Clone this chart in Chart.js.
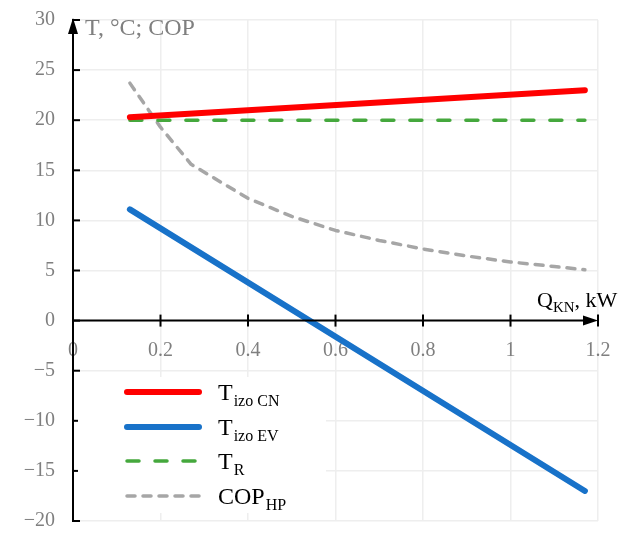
<!DOCTYPE html>
<html>
<head>
<meta charset="utf-8">
<script src="https://cdn.jsdelivr.net/npm/chart.js@4/dist/chart.umd.min.js"></script>
<style>
  html, body { margin: 0; padding: 0; background: #ffffff; }
  canvas { display: block; }
</style>
</head>
<body>
<canvas id="c" width="622" height="534"></canvas>
<script>
// Heat pump operating curves versus condenser load Q_KN (kW)
const qEnds  = [0.13, 1.17];          // load range of the straight-line series, kW
const tIzoCN = [20.3, 23.0];          // condenser insulation temperature, °C
const tIzoEV = [11.1, -17.0];         // evaporator insulation temperature, °C
const tRoom  = [20, 20];              // room temperature, °C
const qCop   = [0.13, 0.2, 0.27, 0.4, 0.5, 0.6, 0.7, 0.8, 0.9, 1.0, 1.1, 1.17];
const copHP  = [23.7, 19.3, 15.6, 12.2, 10.4, 9.0, 8.0, 7.15, 6.45, 5.85, 5.4, 5.07];
const xTicks = [0, 0.2, 0.4, 0.6, 0.8, 1, 1.2];
const yTicks = [-20, -15, -10, -5, 0, 5, 10, 15, 20, 25, 30];

const SERIF = '"Liberation Serif", "Times New Roman", serif';
const GRAY_TXT = '#7f7f7f';
const pts = (xs, ys) => xs.map((x, i) => ({ x: x, y: ys[i] }));

const series = [
  { main: 'T', sub: 'izo CN', data: pts(qEnds, tIzoCN), color: '#ff0000', width: 6,   dash: [] },
  { main: 'T', sub: 'izo EV', data: pts(qEnds, tIzoEV), color: '#1872c9', width: 6,   dash: [] },
  { main: 'T', sub: 'R',      data: pts(qEnds, tRoom),  color: '#45a83d', width: 3.5, dash: [12, 16] },
  { main: 'COP', sub: 'HP',   data: pts(qCop, copHP),   color: '#a6a6a6', width: 3.5, dash: [8, 8] }
];

// axes with arrows, crossing ticks, axis titles and the legend with subscripts
const decorations = {
  id: 'decorations',
  afterDraw(chart) {
    const ctx = chart.ctx;
    const xs = chart.scales.x, ys = chart.scales.y;
    const x0 = xs.getPixelForValue(0), x1 = xs.getPixelForValue(1.2);
    const yB = ys.getPixelForValue(-20), yT = ys.getPixelForValue(30), y0 = ys.getPixelForValue(0);
    ctx.save();
    ctx.strokeStyle = '#000';
    ctx.fillStyle = '#000';
    ctx.lineWidth = 2;
    ctx.lineCap = 'butt';
    // vertical axis
    ctx.beginPath();
    ctx.moveTo(x0, yB); ctx.lineTo(x0, yT + 10); ctx.stroke();
    yTicks.forEach(v => {
      const p = ys.getPixelForValue(v);
      ctx.beginPath(); ctx.moveTo(x0 - 1, p); ctx.lineTo(x0 + 7, p); ctx.stroke();
    });
    ctx.beginPath();
    ctx.moveTo(x0, yT - 2); ctx.lineTo(x0 - 5, yT + 14); ctx.lineTo(x0 + 5, yT + 14); ctx.closePath(); ctx.fill();
    // horizontal axis at zero
    ctx.beginPath();
    ctx.moveTo(x0, y0); ctx.lineTo(x1 - 10, y0); ctx.stroke();
    xTicks.slice(1).forEach(v => {
      const p = xs.getPixelForValue(v);
      ctx.beginPath(); ctx.moveTo(p, y0 - 6); ctx.lineTo(p, y0 + 6); ctx.stroke();
    });
    ctx.beginPath();
    ctx.moveTo(x1, y0); ctx.lineTo(x1 - 15, y0 - 5); ctx.lineTo(x1 - 15, y0 + 5); ctx.closePath(); ctx.fill();

    // axis titles
    ctx.textBaseline = 'alphabetic';
    ctx.textAlign = 'left';
    ctx.fillStyle = GRAY_TXT;
    ctx.font = '24px ' + SERIF;
    ctx.fillText('T, °C; COP', x0 + 12, yT + 15);

    ctx.fillStyle = '#000';
    let tx = 537;
    ctx.font = '22px ' + SERIF;
    ctx.fillText('Q', tx, y0 - 14); tx += ctx.measureText('Q').width;
    ctx.font = '15px ' + SERIF;
    ctx.fillText('KN', tx, y0 - 9); tx += ctx.measureText('KN').width;
    ctx.font = '22px ' + SERIF;
    ctx.fillText(', kW', tx, y0 - 14);

    // legend
    ctx.fillStyle = '#ffffff';
    ctx.fillRect(78, 377, 248, 136);
    const rows = [392, 427, 461, 496];
    series.forEach((s, i) => {
      const ry = rows[i];
      ctx.strokeStyle = s.color;
      ctx.lineWidth = s.width;
      ctx.lineCap = 'round';
      ctx.setLineDash(s.dash);
      ctx.beginPath(); ctx.moveTo(127, ry); ctx.lineTo(199, ry); ctx.stroke();
      ctx.setLineDash([]);
      ctx.fillStyle = '#000';
      let lx = 218;
      ctx.font = '24px ' + SERIF;
      ctx.fillText(s.main, lx, ry + 8); lx += ctx.measureText(s.main).width + 1;
      ctx.font = '16px ' + SERIF;
      ctx.fillText(s.sub, lx, ry + 14);
    });
    ctx.restore();
  }
};

const tickFont = { family: SERIF, size: 20 };
const gridStyle = { color: '#eeeeee', lineWidth: 1.5, drawTicks: false };
const noScalePadding = s => { s.paddingTop = 0; s.paddingBottom = 0; s.paddingLeft = 0; s.paddingRight = 0; };

new Chart(document.getElementById('c'), {
  type: 'line',
  data: {
    datasets: series.map(s => ({
      label: s.main + ' ' + s.sub,
      data: s.data,
      borderColor: s.color,
      backgroundColor: s.color,
      borderWidth: s.width,
      borderDash: s.dash,
      borderCapStyle: 'round',
      borderJoinStyle: 'round',
      pointRadius: 0,
      tension: 0,
      fill: false
    }))
  },
  options: {
    responsive: false,
    devicePixelRatio: 1,
    animation: false,
    layout: { padding: { top: 20, right: 24, bottom: 13, left: 0 } },
    plugins: { legend: { display: false }, tooltip: { enabled: false } },
    scales: {
      x: {
        type: 'linear', min: 0, max: 1.2,
        position: { y: 0 },
        afterBuildTicks: s => { s.ticks = xTicks.map(v => ({ value: v })); },
        afterFit: s => { noScalePadding(s); s.height = 0; },
        grid: gridStyle,
        border: { display: false },
        ticks: { color: GRAY_TXT, font: tickFont, padding: 18, maxRotation: 0, autoSkip: false,
                 callback: v => String(v) }
      },
      y: {
        type: 'linear', min: -20, max: 30,
        afterBuildTicks: s => { s.ticks = yTicks.map(v => ({ value: v })); },
        afterFit: s => { noScalePadding(s); s.width = 73; },
        grid: gridStyle,
        border: { display: false },
        ticks: { color: GRAY_TXT, font: tickFont, padding: 18, autoSkip: false,
                 callback: v => (v < 0 ? '\u2212' + Math.abs(v) : String(v)) }
      }
    }
  },
  plugins: [decorations]
});
</script>
</body>
</html>
